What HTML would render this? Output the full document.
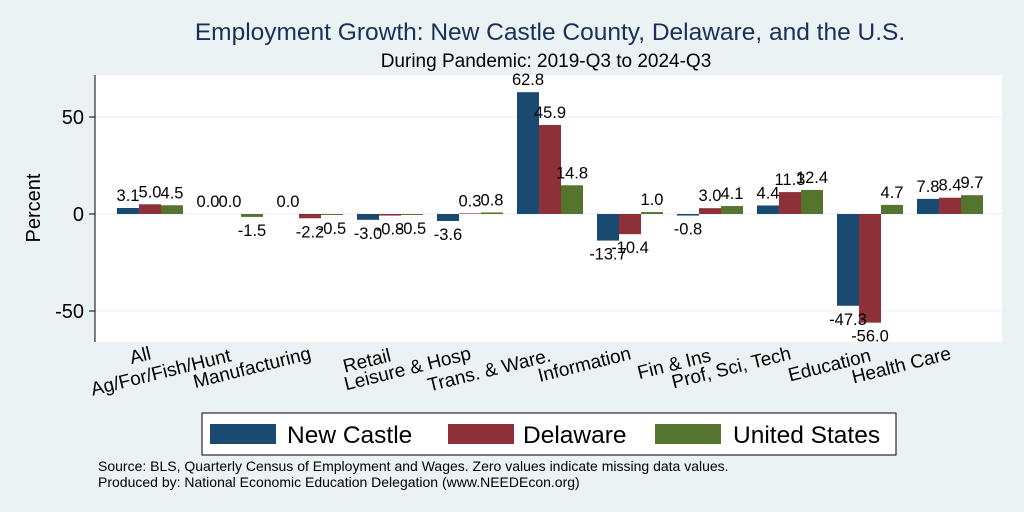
<!DOCTYPE html>
<html><head><meta charset="utf-8"><style>
body{margin:0;background:#eaf2f3;}
svg{display:block;font-family:"Liberation Sans",sans-serif;}
</style></head><body>
<svg id="c" width="1024" height="512">
<rect width="1024" height="512" fill="#eaf2f3"/>
<text x="550" y="40" font-size="24.5" fill="#1a2f5a" text-anchor="middle">Employment Growth: New Castle County, Delaware, and the U.S.</text>
<text x="546" y="67" font-size="19" fill="#000" text-anchor="middle">During Pandemic: 2019-Q3 to 2024-Q3</text>
<rect x="95" y="75" width="907" height="267" fill="#fff"/>
<g id="grid"></g><g id="bars"></g><g id="vals"></g><g id="xl"></g><g id="yax"></g>
<line x1="95" y1="75" x2="95" y2="342" stroke="#000" stroke-width="1"/>
<text transform="translate(40,208) rotate(-90)" font-size="20" text-anchor="middle">Percent</text>
<rect x="202" y="413" width="694" height="42" fill="#fff" stroke="#000"/>
<g><rect x="210" y="424" width="66" height="20" fill="#1a4a72"/><text x="287" y="443" font-size="24.5">New Castle</text></g>
<g><rect x="448" y="424" width="66" height="20" fill="#8e3038"/><text x="523" y="443" font-size="24.5">Delaware</text></g>
<g><rect x="655" y="424" width="66" height="20" fill="#55752f"/><text x="733" y="443" font-size="24.5">United States</text></g>
<text x="98" y="471" font-size="14">Source: BLS, Quarterly Census of Employment and Wages. Zero values indicate missing data values.</text>
<text x="98" y="487" font-size="14">Produced by: National Economic Education Delegation (www.NEEDEcon.org)</text>
</svg>
<script>
const categories=["All","Ag/For/Fish/Hunt","Manufacturing","Retail","Leisure & Hosp","Trans. & Ware.","Information","Fin & Ins","Prof, Sci, Tech","Education","Health Care"];
const newCastle=[3.1,0.0,0.0,-3.0,-3.6,62.8,-13.7,-0.8,4.4,-47.3,7.8];
const delaware=[5.0,0.0,-2.2,-0.8,0.3,45.9,-10.4,3.0,11.3,-56.0,8.4];
const unitedStates=[4.5,-1.5,-0.5,-0.5,0.8,14.8,1.0,4.1,12.4,4.7,9.7];
const yTicks=[-50,0,50];
const NS="http://www.w3.org/2000/svg";
const y=v=>214-v*1.94;
const xc=i=>150+i*80;
function mk(t,a,p){const e=document.createElementNS(NS,t);for(const k in a)e.setAttribute(k,a[k]);p.appendChild(e);return e;}
const grid=document.getElementById('grid'),yax=document.getElementById('yax');
yTicks.forEach(t=>{
 const g=mk('line',{x1:96,x2:1002,y1:y(t),y2:y(t),stroke:'#e6eef0','stroke-width':1},grid);
 
 
 const tk=mk('line',{x1:89,x2:95,y1:y(t),y2:y(t),stroke:'#000'},yax);
 
 
 const tl=mk('text',{x:84,y:y(t)+7,'font-size':20,'text-anchor':'end'},yax);
 tl.textContent=t;
 
 
});
const series=[[newCastle,'#1a4a72'],[delaware,'#8e3038'],[unitedStates,'#55752f']];
const bars=document.getElementById('bars'),vals=document.getElementById('vals'),xl=document.getElementById('xl');
categories.forEach((c,i)=>{
 series.forEach(([arr,col],s)=>{
  const v=arr[i],x0=xc(i)-33+s*22;
  const r=mk('rect',{x:x0,y:Math.min(y(v),y(0)),width:22,height:Math.abs(y(v)-y(0)),fill:col},bars);
  
  
  const t=mk('text',{x:x0+11,y:v>=0?y(v)-7:y(v)+19,'font-size':16.5,'text-anchor':'middle'},vals);
  t.textContent=v.toFixed(1);
  
  
 });
 const l=mk('text',{transform:`translate(${xc(i)+2},${i%2===0?359:361}) rotate(-14)`,'font-size':19,'text-anchor':'end'},xl);
 l.textContent=c;
 
 
});
</script>
</body></html>
